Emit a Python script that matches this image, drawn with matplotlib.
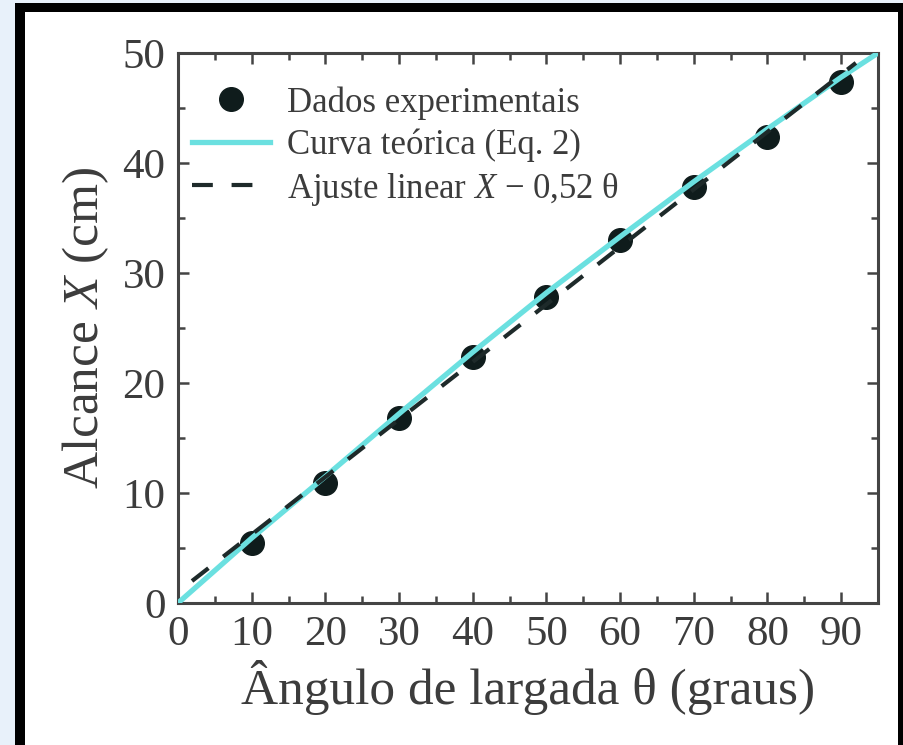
import matplotlib.pyplot as plt
from matplotlib.patches import Rectangle
from matplotlib.ticker import MultipleLocator

# dados
theta_exp = [10, 20, 30, 40, 50, 60, 70, 80, 90]
X_exp = [5.5, 10.9, 16.8, 22.4, 27.8, 33.0, 37.8, 42.4, 47.4]

theta_teo = [0, 10, 20, 30, 40, 50, 60, 70, 80, 90, 95]
X_teo = [0.0, 5.9, 11.5, 17.2, 22.8, 28.2, 33.3, 38.3, 43.1, 47.8, 50.0]

theta_fit = [1.9, 92]
X_fit = [2.0, 49.1]

xticks = [0, 10, 20, 30, 40, 50, 60, 70, 80, 90]
yticks = [0, 10, 20, 30, 40, 50]

plt.rcParams['font.family'] = ['Liberation Serif', 'DejaVu Serif']
plt.rcParams['mathtext.fontset'] = 'custom'
plt.rcParams['mathtext.rm'] = 'Liberation Serif'
plt.rcParams['mathtext.it'] = 'Liberation Serif:italic'

txt = '#3c3c3c'
fig = plt.figure(figsize=(9.04, 7.45), dpi=100, facecolor='#e8f1fa')

# moldura preta + fundo branco
fig.patches.append(Rectangle((15 / 904, 0), 1, 742 / 745, transform=fig.transFigure,
                             facecolor='black', edgecolor='none', zorder=-2))
fig.patches.append(Rectangle((25 / 904, 0), 873 / 904, 733 / 745, transform=fig.transFigure,
                             facecolor='white', edgecolor='none', zorder=-1))

ax = fig.add_axes([178 / 904, (745 - 603) / 745, 700 / 904, 550 / 745])
ax.set_facecolor('none')

ax.plot(theta_exp, X_exp, 'o', color='#0f1c1c', markersize=17, zorder=2,
        label='Dados experimentais')
ax.plot(theta_teo, X_teo, '-', color='#6be0e0', linewidth=3.8, zorder=3,
        label='Curva teórica (Eq. 2)')
ax.plot(theta_fit, X_fit, '--', color='#1e2a2a', linewidth=3, dashes=(5, 4.5), zorder=4,
        label='Ajuste linear $X$ − 0,52 θ')

ax.set_xlim(0, 95)
ax.set_ylim(0, 50)
ax.set_xticks(xticks)
ax.set_yticks(yticks)
ax.xaxis.set_minor_locator(MultipleLocator(5))
ax.yaxis.set_minor_locator(MultipleLocator(5))
ax.tick_params(which='both', direction='in', top=True, right=True, color='#444444',
               labelcolor=txt, labelsize=31, width=1.8)
ax.tick_params(which='major', length=8, pad=9)
ax.tick_params(which='minor', length=5)
for s in ax.spines.values():
    s.set_color('#444444')
    s.set_linewidth(2.2)

ax.set_xlabel('Ângulo de largada θ (graus)', fontsize=37, color=txt, labelpad=4)
ax.set_ylabel('Alcance $X$ (cm)', fontsize=37, color=txt, labelpad=8)

leg = ax.legend(loc='upper left', frameon=False, fontsize=25, handlelength=2.25,
                handletextpad=0.5, labelspacing=0.25, borderaxespad=0,
                bbox_to_anchor=(0.0, 0.965))
for t in leg.get_texts():
    t.set_color(txt)

fig.savefig('out.png', dpi=100, facecolor=fig.get_facecolor())
